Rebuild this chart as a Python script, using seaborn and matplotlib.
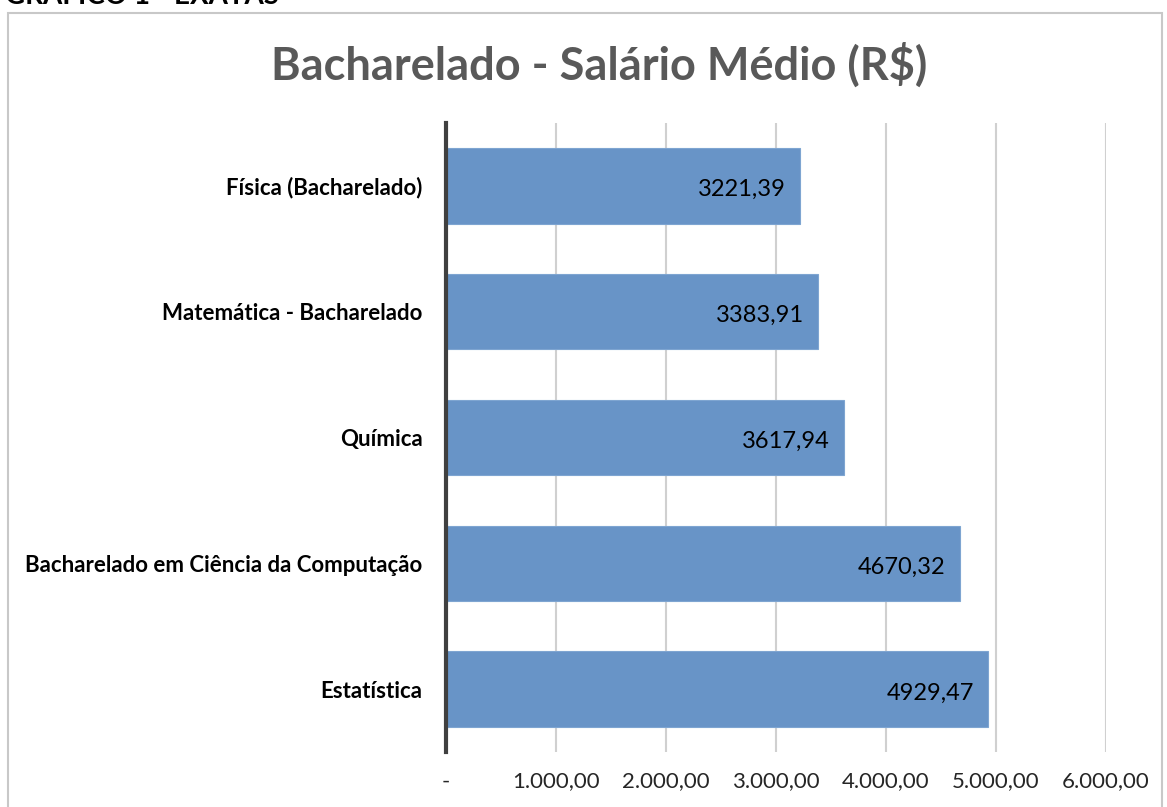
import matplotlib
matplotlib.use("Agg")
import matplotlib.pyplot as plt
import seaborn as sns
import pandas as pd
from matplotlib.patches import Rectangle

categories = ["Física (Bacharelado)", "Matemática - Bacharelado", "Química",
              "Bacharelado em Ciência da Computação", "Estatística"]
values = [3221.39, 3383.91, 3617.94, 4670.32, 4929.47]
tick_values = [0, 1000, 2000, 3000, 4000, 5000, 6000]
tick_labels = ["-", "1.000,00", "2.000,00", "3.000,00", "4.000,00", "5.000,00", "6.000,00"]
title = "Bacharelado - Salário Médio (R$)"
header = "GRÁFICO 1 - EXATAS"

sns.set_style("white")
plt.rcParams['font.family'] = ['Lato', 'DejaVu Sans']

df = pd.DataFrame({"curso": categories, "salario": values})

W, H = 1167, 807
fig = plt.figure(figsize=(W / 100, H / 100), dpi=100)
ax = fig.add_axes([446 / W, 1 - 752 / H, (1106 - 446) / W, (752 - 123) / H])

sns.barplot(data=df, y="curso", x="salario", orient="h", color="#6894c7",
            saturation=1, width=0.6, ax=ax, zorder=3, edgecolor="#7ea5d1", linewidth=0.8)

ax.set_xlim(0, 6000)
ax.set_ylim(4.5, -0.5)
ax.set_xticks(tick_values)
ax.set_xticklabels(tick_labels, fontsize=16, color="#262626")
ax.tick_params(axis="x", length=0, pad=14)
ax.tick_params(axis="y", length=0, pad=17)
for lab in ax.get_yticklabels():
    lab.set_fontweight("bold")
    lab.set_fontsize(16)
    lab.set_color("black")
ax.set_xlabel("")
ax.set_ylabel("")
ax.grid(axis="x", color="#d0d0d0", linewidth=1.5, zorder=0)
ax.grid(axis="y", visible=False)
for s in ["top", "right", "bottom"]:
    ax.spines[s].set_visible(False)
ax.spines["left"].set_color("#404040")
ax.spines["left"].set_linewidth(3)
ax.spines["left"].set_zorder(4)

for i, v in enumerate(values):
    ax.text(v - 130, i + 0.03, f"{v:.2f}".replace(".", ","), ha="right", va="center",
            fontsize=17, color="black", zorder=5)

fig.text(599 / W, 1 - 65 / H, title, ha="center", va="center", fontsize=32.5,
         fontweight="bold", color="#595959")
fig.text(5 / W, 1 - 4 / H, header, ha="left", va="baseline", fontsize=20,
         fontweight="bold", color="black")

fig.patches.append(Rectangle((8 / W, -0.05), (1162 - 8) / W, 1 - 13 / H + 0.05,
                             transform=fig.transFigure, fill=False,
                             edgecolor="#c8c8c8", linewidth=1.5))

fig.savefig("out.png", dpi=100)
